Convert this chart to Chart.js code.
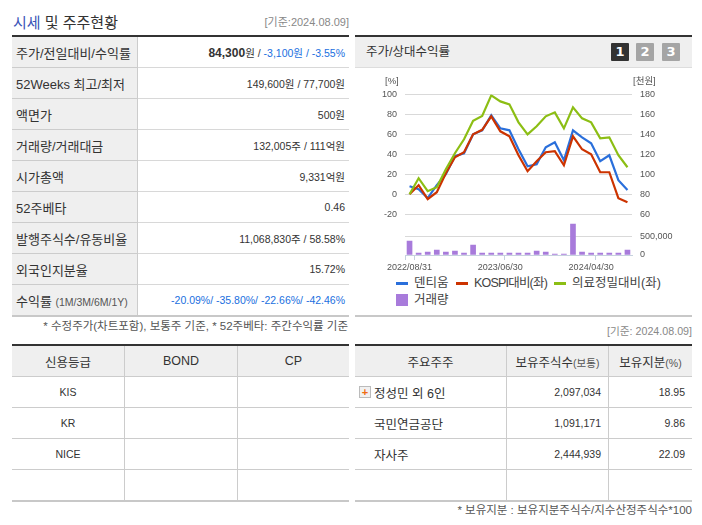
<!DOCTYPE html>
<html lang="ko">
<head>
<meta charset="utf-8">
<title>시세 및 주주현황</title>
<script src="https://cdn.jsdelivr.net/npm/chart.js@4"></script>
<style>
    html, body { margin: 0; padding: 0; background: #fff; }
    body { position: relative; width: 702px; height: 525px; overflow: hidden; color: #333;
        font-family: "Liberation Sans", "Noto Sans CJK KR", sans-serif; font-size: 10.5px; }
    .abs { position: absolute; white-space: nowrap; line-height: 14px; }
    .ko { font-size: 12.5px; }
    .blue { color: #1a6fe0; }
    .gray { color: #888; }
    .title { left: 13px; top: 14px; font-size: 15px; line-height: 18px; }
    .title b { font-weight: normal; color: #3a55b8; }

    table { position: absolute; border-collapse: collapse; table-layout: fixed; border-top: 2px solid #333; border-bottom: 2px solid #c8c8c8; }
    td, th { font-weight: normal; padding: 0; height: 30px; border-bottom: 1px solid #d8d8d8; white-space: nowrap; }
    tr:last-child td { border-bottom: 0; }
    #priceTable { left: 12px; top: 35px; width: 337px; }
    #priceTable th { width: 125px; background: #efefef; text-align: left; padding-left: 4px; box-sizing: border-box;
        font-size: 13px; border-right: 1px solid #ccc; border-bottom-color: #ccc; }
    #priceTable td { text-align: right; padding-right: 4px; }
    #priceTable td b { font-size: 12px; }
    #priceTable small { font-size: 10.5px; color: #555; }
    .grid th { background: #efefef; font-size: 12.5px; border-right: 1px solid #ccc; border-bottom-color: #ccc; }
    .grid td { border-right: 1px solid #ccc; border-bottom-color: #ccc; }
    .grid th:last-child, .grid td:last-child { border-right: 0; }
    #creditTable { left: 12px; top: 344px; width: 337px; }
    #creditTable td { text-align: center; }
    #holderTable { left: 355px; top: 344px; width: 337px; }
    #holderTable td { text-align: right; padding-right: 7px; }
    #holderTable td.name { text-align: left; padding: 0 0 0 19px; font-size: 12.5px; position: relative; }
    #holderTable small { font-size: 10.5px; color: #555; }
    .plus { position: absolute; left: 4px; top: 9px; width: 10px; height: 10px; border: 1px solid #bbb; background: #f1f1f1;
        color: #f06a10; font: bold 11px/10px "Liberation Sans"; text-align: center; }

    #chartHead { position: absolute; left: 355px; top: 35px; width: 337px; height: 30px; background: #efefef;
        border-top: 2px solid #333; border-bottom: 1px solid #ddd; }
    .tab { position: absolute; top: 43px; width: 18px; height: 18px; border-radius: 1px; background: #a5a5a5; color: #fff;
        font: bold 13px/18px "DejaVu Sans"; text-align: center; }
    #panelEnd { position: absolute; left: 355px; top: 315px; width: 337px; height: 2px; background: #c8c8c8; }
    #chartBox { position: absolute; left: 360px; top: 81px; width: 330px; height: 194px; }
    #legend { position: absolute; left: 396px; top: 276px; width: 290px; }
    .lg { position: absolute; white-space: nowrap; font-size: 12.5px; line-height: 16px; color: #444; padding-left: 18px; }
    .lg i { position: absolute; left: 0; }
</style>
</head>
<body>
<div class="abs title"><b>시세</b> 및 주주현황</div>
<div class="abs gray" style="right:353px;top:15px;font-size:11px">[기준:2024.08.09]</div>

<table id="priceTable">
    <tr><th>주가/전일대비/수익률</th><td><b>84,300</b>원 / <span class="blue">-3,100원 / -3.55%</span></td></tr>
    <tr><th>52Weeks 최고/최저</th><td>149,600원 / 77,700원</td></tr>
    <tr><th>액면가</th><td>500원</td></tr>
    <tr><th>거래량/거래대금</th><td>132,005주 / 111억원</td></tr>
    <tr><th>시가총액</th><td>9,331억원</td></tr>
    <tr><th>52주베타</th><td>0.46</td></tr>
    <tr><th>발행주식수/유동비율</th><td>11,068,830주 / 58.58%</td></tr>
    <tr><th>외국인지분율</th><td>15.72%</td></tr>
    <tr><th>수익률 <small>(1M/3M/6M/1Y)</small></th><td class="blue">-20.09%/ -35.80%/ -22.66%/ -42.46%</td></tr>
</table>
<div class="abs" style="right:354px;top:319px;font-size:11.5px;color:#555">* 수정주가(차트포함), 보통주 기준, * 52주베타: 주간수익률 기준</div>

<div id="chartHead"></div>
<div class="abs ko" style="left:366px;top:45px">주가/상대수익률</div>
<div class="tab" style="left:611px;background:#333">1</div>
<div class="tab" style="left:636px">2</div>
<div class="tab" style="left:662px">3</div>
<div id="chartBox"><canvas id="priceChart"></canvas></div>
<div class="abs" style="left:385px;top:74px;font-size:9.5px;color:#555">[%]</div>
<div class="abs" style="left:633px;top:74px;font-size:9.5px;color:#555">[천원]</div>
<div id="legend"></div>
<div id="panelEnd"></div>

<div class="abs gray" style="right:10px;top:324px;font-size:10.7px">[기준: 2024.08.09]</div>

<table id="creditTable" class="grid">
    <tr><th style="width:112px">신용등급</th><th style="width:112px">BOND</th><th>CP</th></tr>
    <tr><td>KIS</td><td></td><td></td></tr>
    <tr><td>KR</td><td></td><td></td></tr>
    <tr><td>NICE</td><td></td><td></td></tr>
    <tr><td></td><td></td><td></td></tr>
</table>

<table id="holderTable" class="grid">
    <tr><th style="width:151px">주요주주</th><th style="width:101px">보유주식수<small>(보통)</small></th><th>보유지분<small>(%)</small></th></tr>
    <tr><td class="name"><span class="plus">+</span>정성민 외 6인</td><td>2,097,034</td><td>18.95</td></tr>
    <tr><td class="name">국민연금공단</td><td>1,091,171</td><td>9.86</td></tr>
    <tr><td class="name">자사주</td><td>2,444,939</td><td>22.09</td></tr>
    <tr><td></td><td></td><td></td></tr>
</table>
<div class="abs" style="right:10px;top:503px;font-size:11.5px;color:#555">* 보유지분 : 보유지분주식수/지수산정주식수*100</div>

<script>
// chart data
const dates = [
    '2022/08/31', '2022/09/30', '2022/10/31', '2022/11/30', '2022/12/29', '2023/01/31', '2023/02/28',
    '2023/03/31', '2023/04/28', '2023/05/31', '2023/06/30', '2023/07/31', '2023/08/31', '2023/09/27',
    '2023/10/31', '2023/11/30', '2023/12/28', '2024/01/31', '2024/02/29', '2024/03/29', '2024/04/30',
    '2024/05/31', '2024/06/28', '2024/07/31', '2024/08/09'
];
const dentiumPrice = [88, 85, 76, 89, 100, 118, 121, 140, 144, 159, 146, 144, 125, 108, 110, 127, 132, 114, 144, 137, 131, 113, 119, 94, 84.3];
const kospiRelative = [0, 9, -5, 2, 21, 37, 42, 60, 64.5, 78, 63, 58, 39, 23, 33, 42, 43, 29, 58, 45, 40, 22, 22, -4, -8];
const medicalRelative = [0, 16, 3, 7, 25, 41, 55, 73.5, 78.5, 99, 93, 90, 72, 60, 68, 78, 82, 66, 87, 76, 72, 56, 57, 39, 27];
const volumes = [375000, 55000, 80000, 134000, 80000, 107000, 55000, 268000, 55000, 55000, 55000, 55000, 55000, 55000,
    107000, 80000, 27000, 27000, 830000, 80000, 55000, 55000, 55000, 55000, 132005];

const seriesNames = ['덴티움', 'KOSPI대비(좌)', '의료정밀대비(좌)', '거래량'];
const seriesColors = ['#2a6fdb', '#cc3300', '#8cbe14', '#a87bdb'];
const labelIndexes = [0, 10, 20];
const tickIndexes = [0, 1, 11, 21];

const TICK_FONT = { family: "'Liberation Sans', sans-serif", size: 9 };
const TICK_COLOR = '#555';
const GRID_COLOR = '#d9d9d9';

function lineSet(i, values, axis, order) {
    return {
        type: 'line',
        label: seriesNames[i],
        data: values,
        yAxisID: axis,
        borderColor: seriesColors[i],
        borderWidth: 2.2,
        pointRadius: 0,
        tension: 0,
        order: order
    };
}

const priceChart = new Chart(document.getElementById('priceChart'), {
    data: {
        labels: dates,
        datasets: [
            lineSet(0, dentiumPrice, 'yPrice', 2),
            lineSet(1, kospiRelative, 'yPct', 1),
            lineSet(2, medicalRelative, 'yPct', 0),
            {
                type: 'bar',
                label: seriesNames[3],
                data: volumes,
                yAxisID: 'yVol',
                backgroundColor: seriesColors[3],
                barThickness: 5,
                order: 3
            }
        ]
    },
    options: {
        responsive: true,
        maintainAspectRatio: false,
        animation: false,
        layout: { padding: { top: 8, right: 0, bottom: 0, left: 0 } },
        plugins: { legend: { display: false }, tooltip: { enabled: false } },
        scales: {
            x: {
                offset: true,
                border: { color: '#c6d2de' },
                grid: {
                    offset: true,
                    drawOnChartArea: false,
                    tickLength: 5,
                    tickColor: ctx => tickIndexes.includes(ctx.index) ? '#c6d2de' : 'rgba(0,0,0,0)'
                },
                ticks: {
                    autoSkip: false,
                    maxRotation: 0,
                    padding: 2,
                    font: TICK_FONT,
                    color: TICK_COLOR,
                    callback: (v, i) => labelIndexes.includes(i) ? dates[i] : ''
                },
                afterFit: s => { s.height = 20; }
            },
            // left boxes stack bottom-up, so the empty one comes first
            yFill: {
                position: 'left',
                stack: 'left',
                stackWeight: 41.3,
                min: 0,
                max: 1,
                border: { display: false },
                grid: { display: false, drawTicks: false },
                ticks: { display: false },
                afterFit: s => { s.width = 45; }
            },
            yPct: {
                position: 'left',
                stack: 'left',
                stackWeight: 121,
                min: -20,
                max: 100,
                border: { display: false },
                grid: { color: GRID_COLOR, drawTicks: false },
                ticks: { stepSize: 20, padding: 8, font: TICK_FONT, color: TICK_COLOR, autoSkip: false },
                afterFit: s => { s.width = 45; }
            },
            yPrice: {
                position: 'right',
                stack: 'right',
                stackWeight: 121,
                min: 60,
                max: 180,
                border: { display: false },
                grid: { display: false, drawTicks: false },
                ticks: { stepSize: 20, padding: 8, font: TICK_FONT, color: TICK_COLOR, autoSkip: false },
                afterFit: s => { s.width = 58; }
            },
            yVol: {
                position: 'right',
                stack: 'right',
                stackWeight: 41.3,
                min: 0,
                max: 1100000,
                border: { display: false },
                grid: { color: GRID_COLOR, drawTicks: false },
                afterBuildTicks: s => { s.ticks = [{ value: 0 }, { value: 500000 }]; },
                ticks: {
                    padding: 8,
                    font: TICK_FONT,
                    color: TICK_COLOR,
                    callback: v => v.toLocaleString('en-US')
                },
                afterFit: s => { s.width = 58; }
            }
        }
    }
});

// html legend, the original wraps its last item to a second row
const legendSpots = [[0, -1], [60, -1], [158, -1], [0, 16]];
priceChart.data.datasets.forEach((ds, i) => {
    const item = document.createElement('div');
    item.className = 'lg';
    item.style.left = legendSpots[i][0] + 'px';
    item.style.top = legendSpots[i][1] + 'px';
    item.textContent = ds.label;
    if (i === 1) item.style.letterSpacing = '-0.8px';
    const mark = document.createElement('i');
    mark.style.background = seriesColors[i];
    if (ds.type === 'bar') {
        mark.style.cssText += 'width:12px;height:12px;top:2px';
    } else {
        mark.style.cssText += 'width:12px;height:3px;top:7px';
    }
    item.appendChild(mark);
    document.getElementById('legend').appendChild(item);
});
</script>
</body>
</html>
